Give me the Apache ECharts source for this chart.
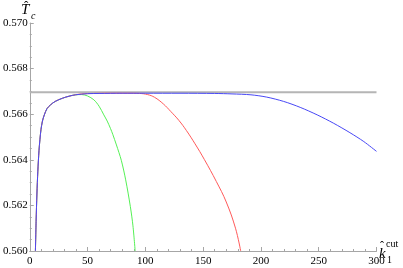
<!DOCTYPE html>
<html><head><meta charset="utf-8">
<script src="https://cdn.jsdelivr.net/npm/echarts@6/dist/echarts.min.js"></script>
<style>html,body{margin:0;padding:0;background:#fff}#c{width:403px;height:268px}</style>
</head><body><div id="c"></div>
<script>
// Tick labels
const xTicks = [0, 50, 100, 150, 200, 250, 300];
const yTicks = [0.560, 0.562, 0.564, 0.566, 0.568, 0.570];
// Reference level (grey line)
const refLevel = 0.56696;
const refK = [0, 300];
// Blue curve
const blueK = [4.9, 5.5, 6.2, 7, 8, 8.8, 9.7, 11, 12.6, 15, 18, 22, 28.3, 34, 39.5, 50, 60, 80, 100, 130, 160, 175, 191.4, 205, 219.7, 234, 248.7, 263, 277, 289, 300];
const blueT = [0.5600, 0.5613, 0.5625, 0.5635, 0.5644, 0.56488, 0.56532, 0.5657, 0.56597, 0.56625, 0.56641, 0.56656, 0.5667, 0.56679, 0.56685, 0.5669, 0.56691, 0.56692, 0.56692, 0.56692, 0.56691, 0.56689, 0.56685, 0.56675, 0.56656, 0.5663, 0.56597, 0.5656, 0.56519, 0.5648, 0.56437];
// Green curve
const greenK = [4.9, 5.5, 6.2, 7, 8, 8.8, 9.7, 11, 12.6, 15, 18, 22, 28.3, 34, 39.5, 45, 50, 55.5, 60, 64.1, 67, 69.8, 71.8, 75, 79.2, 83, 87, 89.3, 91.2];
const greenT = [0.5600, 0.5613, 0.5625, 0.5635, 0.5644, 0.56488, 0.56532, 0.5657, 0.56597, 0.56625, 0.56641, 0.56656, 0.5667, 0.56679, 0.56685, 0.56686, 0.5668, 0.56663, 0.56635, 0.56597, 0.5657, 0.56538, 0.56512, 0.56465, 0.56398, 0.56312, 0.56196, 0.5611, 0.5600];
// Red curve
const redK = [4.9, 5.5, 6.2, 7, 8, 8.8, 9.7, 11, 12.6, 15, 18, 22, 28.3, 34, 39.5, 45, 55, 70, 85, 95, 102, 108, 115.6, 122, 129, 135.6, 143, 151, 161.4, 170, 178, 182.5];
const redT = [0.5600, 0.5613, 0.5625, 0.5635, 0.5644, 0.56488, 0.56532, 0.5657, 0.56597, 0.56625, 0.56641, 0.56656, 0.5667, 0.56679, 0.56685, 0.56689, 0.56691, 0.56692, 0.56692, 0.56691, 0.56686, 0.56674, 0.56645, 0.56612, 0.56573, 0.56528, 0.5647, 0.56402, 0.56305, 0.56215, 0.561, 0.5600];

const zip = (a, b) => a.map((v, i) => [v, b[i]]);
const axisCol = '#a6a6a6';
const serif = '"Liberation Serif", "DejaVu Serif", serif';

const chart = echarts.init(document.getElementById('c'), null, {renderer: 'canvas'});
chart.setOption({
  animation: false,
  backgroundColor: '#ffffff',
  grid: {left: 27, right: 26.5, top: 23, bottom: 17, containLabel: false},
  xAxis: {
    type: 'value', min: xTicks[0], max: xTicks[xTicks.length - 1], interval: 50,
    axisLine: {onZero: false, lineStyle: {color: axisCol, width: 1}},
    axisTick: {inside: true, length: 4, lineStyle: {color: axisCol}},
    minorTick: {show: true, splitNumber: 5, length: 2, lineStyle: {color: axisCol}},
    splitLine: {show: false},
    axisLabel: {color: '#000', fontFamily: serif, fontSize: 11, margin: 5,
      formatter: v => xTicks.includes(v) ? String(v) : ''}
  },
  yAxis: {
    type: 'value', min: 0.560, max: 0.570, interval: 0.002,
    axisLine: {show: true, onZero: false, lineStyle: {color: axisCol, width: 1}},
    axisTick: {show: true, inside: true, length: 4, lineStyle: {color: axisCol}},
    minorTick: {show: true, splitNumber: 4, length: 2, lineStyle: {color: axisCol}},
    splitLine: {show: false},
    axisLabel: {color: '#000', fontFamily: serif, fontSize: 11, margin: 2,
      formatter: v => v.toFixed(3)}
  },
  series: [
    {type: 'line', data: refK.map(k => [k, refLevel]), symbol: 'none', silent: true,
      lineStyle: {color: '#b5b5b5', width: 2}, z: 1},
    {type: 'line', data: zip(greenK, greenT), symbol: 'none', smooth: 0.3, silent: true,
      lineStyle: {color: '#55f055', width: 1}, z: 2},
    {type: 'line', data: zip(redK, redT), symbol: 'none', smooth: 0.4, silent: true,
      lineStyle: {color: '#ff5a5a', width: 1}, z: 3},
    {type: 'line', data: zip(blueK, blueT), symbol: 'none', smooth: 0.3, silent: true,
      lineStyle: {color: '#4848f5', width: 1}, z: 4}
  ],
  graphic: [
    {type: 'text', left: 21, top: 3, style: {text: 'T', font: 'italic 15px ' + serif, fill: '#000'}},
    {type: 'text', left: 24, top: 0, style: {text: '\u02C6', font: '13px ' + serif, fill: '#000'}},
    {type: 'text', left: 31, top: 11, style: {text: 'c', font: 'italic 10px ' + serif, fill: '#000'}},
    {type: 'text', left: 379, top: 247, style: {text: 'k', font: 'italic 15px ' + serif, fill: '#000'}},
    {type: 'text', left: 380, top: 241, style: {text: '\u02C6', font: '12px ' + serif, fill: '#000'}},
    {type: 'text', left: 387, top: 255, style: {text: '1', font: '10px ' + serif, fill: '#000'}},
    {type: 'text', left: 386, top: 239, style: {text: 'cut', font: '10px ' + serif, fill: '#000'}}
  ]
});
</script></body></html>
